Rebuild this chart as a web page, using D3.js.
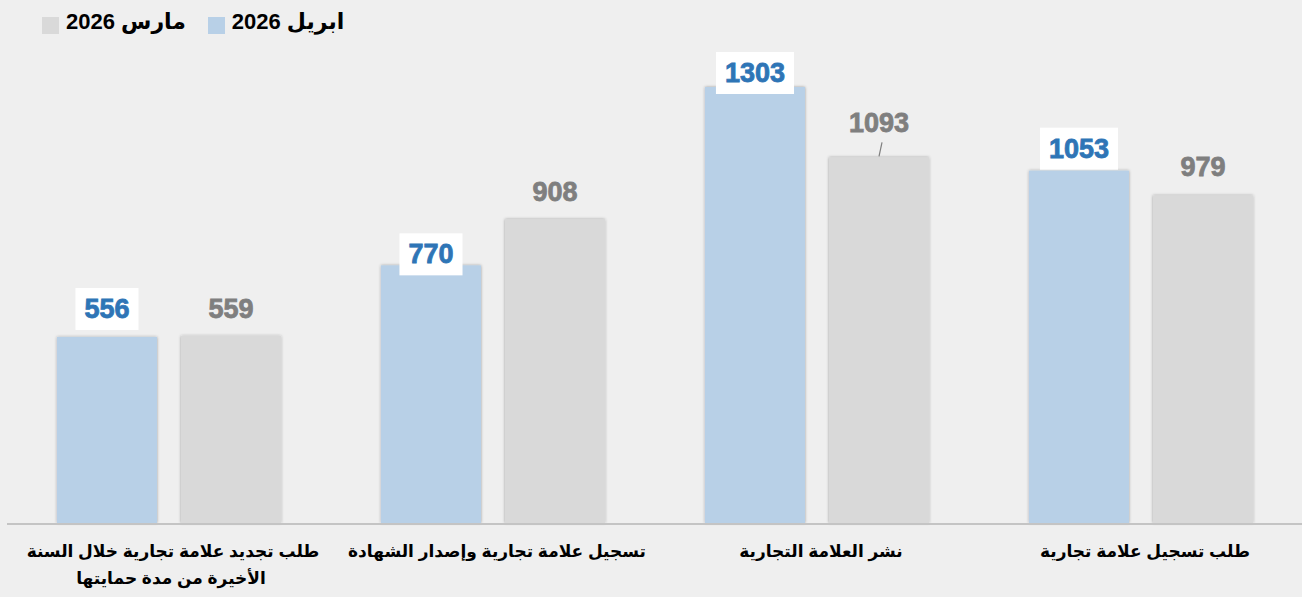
<!DOCTYPE html>
<html>
<head>
<meta charset="utf-8">
<script src="https://cdn.jsdelivr.net/npm/d3@7"></script>
<style>
  body { margin: 0; background: #efefef; }
  svg { display: block; }
</style>
</head>
<body>
<div id="canvas"></div>
<script>
"use strict"

/* Data (categories listed right to left, as in the chart) */
let categories = [
    ["طلب تسجيل علامة تجارية"],
    ["نشر العلامة التجارية"],
    ["تسجيل علامة تجارية وإصدار الشهادة"],
    ["طلب تجديد علامة تجارية خلال السنة", "الأخيرة من مدة حمايتها"]
];
let seriesNames = ["ابريل 2026", "مارس 2026"];
let aprilValues = [1053, 1303, 770, 556];
let marchValues = [979, 1093, 908, 559];

/* Configuration: drawing */
let svgWidth = 1302;
let svgHeight = 597;
let baseY = 523;
let fontFamily = "'Liberation Sans', Arial, 'DejaVu Sans', sans-serif";
let colors = ["#b8d0e7", "#d9d9d9"];
let labelColors = ["#2e75b6", "#7f7f7f"];
/* how far above the bar top each value label sits */
let labelLift = [[22, 14, 11, 28], [28, 34, 27, 27]];

let svg = d3.select("#canvas")
    .append("svg")
    .attr("width", svgWidth)
    .attr("height", svgHeight);

/* bar shadow */
let filter = svg.append("defs").append("filter")
    .attr("id", "shadow")
    .attr("x", "-10%").attr("y", "-10%")
    .attr("width", "120%").attr("height", "120%");
filter.append("feDropShadow")
    .attr("dx", 0).attr("dy", 0)
    .attr("stdDeviation", 1.6)
    .attr("flood-color", "#000")
    .attr("flood-opacity", 0.35);

svg.append("rect")
    .attr("width", svgWidth)
    .attr("height", svgHeight)
    .attr("fill", "#efefef");

/* Scales: reversed range so the first category is on the right */
let xScale = d3.scaleBand()
    .domain(d3.range(categories.length))
    .range([1303, 7]);

let xSub = d3.scaleBand()
    .domain([0, 1])
    .range([0, xScale.bandwidth()])
    .paddingInner(24 / 124)
    .paddingOuter(0.403);

let yScale = d3.scaleLinear()
    .domain([0, 1303])
    .range([baseY, 87]);

let rows = [];
categories.forEach(function (c, i) {
    rows.push({ cat: i, s: 0, value: aprilValues[i] });
    rows.push({ cat: i, s: 1, value: marchValues[i] });
});

/* bars */
svg.selectAll("rect.bar")
    .data(rows)
    .join("rect")
    .attr("class", "bar")
    .attr("x", function (d) { return xScale(d.cat) + xSub(d.s); })
    .attr("y", function (d) { return yScale(d.value); })
    .attr("width", xSub.bandwidth())
    .attr("height", function (d) { return baseY - yScale(d.value); })
    .attr("fill", function (d) { return colors[d.s]; })
    .attr("filter", "url(#shadow)");

/* baseline */
svg.append("line")
    .attr("x1", 7)
    .attr("x2", svgWidth)
    .attr("y1", baseY + 1)
    .attr("y2", baseY + 1)
    .attr("stroke", "#c4c4c4")
    .attr("stroke-width", 2);

/* value labels */
rows.forEach(function (d) {
    let cx = xScale(d.cat) + xSub(d.s) + xSub.bandwidth() / 2;
    let top = yScale(d.value);
    let cy = top - labelLift[d.s][d.cat];
    let g = svg.append("g");
    let box = g.append("rect").attr("fill", "white");
    let t = g.append("text")
        .attr("x", cx)
        .attr("y", cy)
        .attr("text-anchor", "middle")
        .attr("dominant-baseline", "central")
        .attr("font-family", fontFamily)
        .attr("font-weight", "bold")
        .attr("font-size", 27)
        .attr("fill", labelColors[d.s])
        .attr("stroke", labelColors[d.s])
        .attr("stroke-width", 0.8)
        .text(d.value);
    if (d.s == 0) {
        let w = t.node().getComputedTextLength() + 18;
        box.attr("x", cx - w / 2)
            .attr("y", cy - 21)
            .attr("width", w)
            .attr("height", 42);
    } else {
        box.remove();
        if (labelLift[d.s][d.cat] > 30) {
            /* leader line */
            svg.append("line")
                .attr("x1", cx + 3)
                .attr("y1", cy + 19)
                .attr("x2", cx)
                .attr("y2", top - 1)
                .attr("stroke", "#7f7f7f")
                .attr("stroke-width", 1.2);
        }
    }
});

/* category labels */
categories.forEach(function (lines, i) {
    let cx = xScale(i) + xScale.bandwidth() / 2;
    lines.forEach(function (line, j) {
        svg.append("text")
            .attr("x", cx + (j == 0 ? 4 : 2))
            .attr("y", 551 + j * 27)
            .attr("text-anchor", "middle")
            .attr("dominant-baseline", "central")
            .attr("direction", "rtl")
            .attr("font-family", fontFamily)
            .attr("font-weight", "bold")
            .attr("font-size", 17)
            .attr("fill", "black")
            .text(line);
    });
});

/* legend */
let legendSquareX = [208, 42];
let legendTextX = [288, 126];
seriesNames.forEach(function (name, i) {
    svg.append("rect")
        .attr("x", legendSquareX[i])
        .attr("y", 17)
        .attr("width", 17)
        .attr("height", 17)
        .attr("fill", colors[i]);
    svg.append("text")
        .attr("x", legendTextX[i])
        .attr("y", 21)
        .attr("text-anchor", "middle")
        .attr("dominant-baseline", "central")
        .attr("direction", "rtl")
        .attr("font-family", fontFamily)
        .attr("font-weight", "bold")
        .attr("font-size", 22)
        .attr("fill", "black")
        .text(name);
});
</script>
</body>
</html>
